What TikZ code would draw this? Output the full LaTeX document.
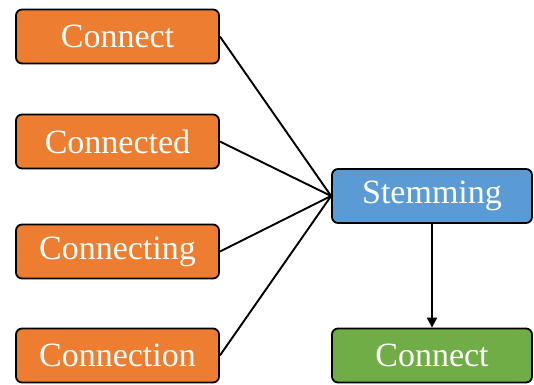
\documentclass[tikz,border=0pt]{standalone}
\usepackage{fontspec}
\setmainfont{Liberation Serif}
\usetikzlibrary{arrows.meta}
\definecolor{wordorange}{HTML}{ED7D31}
\definecolor{stemblue}{HTML}{5B9BD5}
\definecolor{rootgreen}{HTML}{70AD47}
\tikzset{
  wordbox/.style={draw=black, line width=1.8pt, rounded corners=6pt,
    minimum width=203pt, minimum height=54pt, inner sep=0pt,
    text=white, font=\fontsize{34}{36}\selectfont},
  link/.style={draw=black, line width=1.9pt},
}
\begin{document}
\begin{tikzpicture}[x=1pt, y=1pt]
  \useasboundingbox (0,0) rectangle (534,384);
  % inflected word forms
  \node[wordbox, fill=wordorange] (w1) at (117.5, 384-36.5) {Connect};
  \node[wordbox, fill=wordorange] (w2) at (117.5, 384-141.5) {Connected};
  \node[wordbox, fill=wordorange] (w3) at (117.5, 384-251.5) {Connecting};
  \node[wordbox, fill=wordorange] (w4) at (117.5, 384-355.5) {Connection};
  % stemming step and resulting root
  \node[wordbox, fill=stemblue, minimum width=200pt] (stem) at (432, 384-196) {Stemming};
  \node[wordbox, fill=rootgreen, minimum width=200pt] (root) at (432, 384-355.5) {Connect};
  % connectors
  \foreach \w in {w1,w2,w3,w4}
    \draw[link] (\w.east) -- (stem.west);
  \draw[link, -{Triangle[length=10pt, width=10pt]}] (stem.south) -- (root.north);
\end{tikzpicture}
\end{document}
